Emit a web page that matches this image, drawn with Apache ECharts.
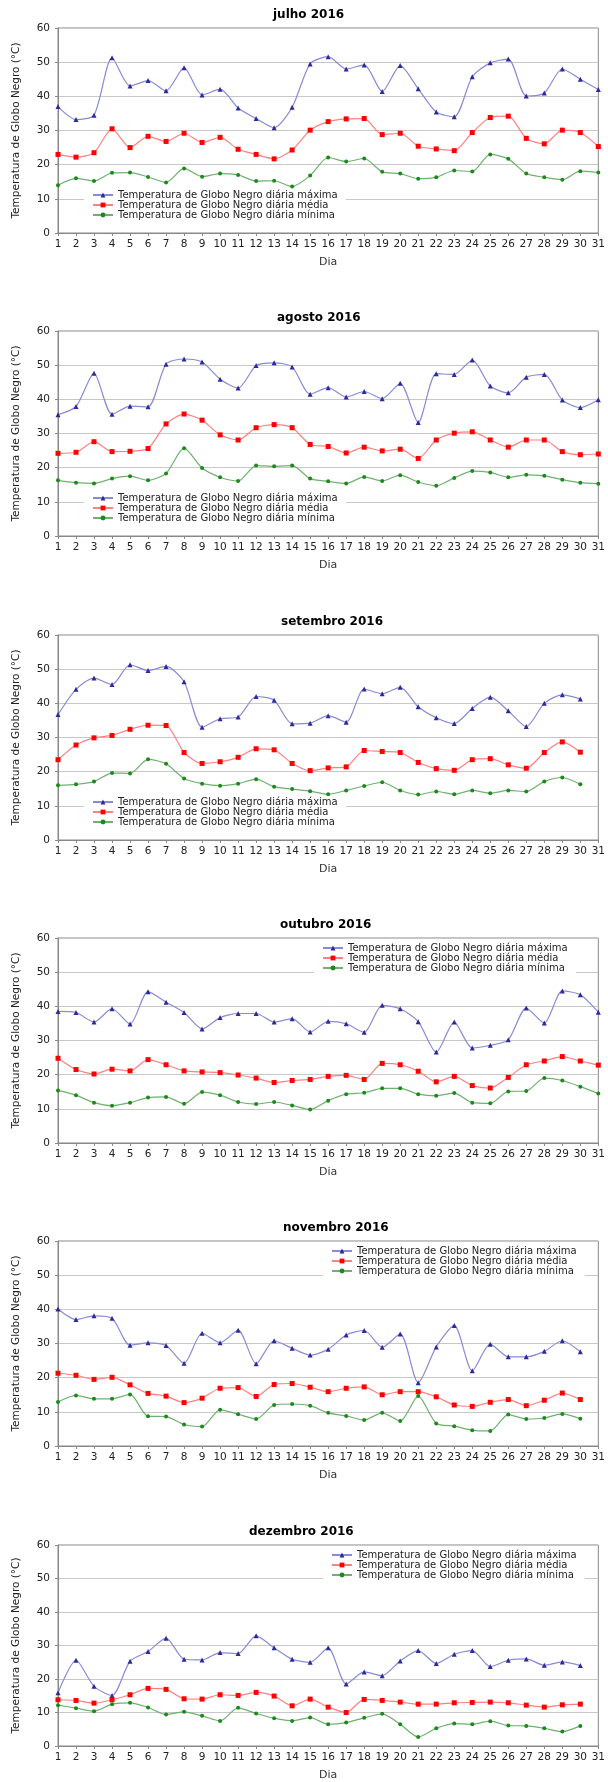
<!DOCTYPE html>
<html>
<head>
<meta charset="utf-8">
<script src="https://cdn.jsdelivr.net/npm/echarts@6/dist/echarts.min.js"></script>
<style>html,body{margin:0;padding:0;background:#fff}#c{width:608px;height:1782px}#e{position:absolute;top:0;left:0;font-size:10px;color:#c00}</style>
</head>
<body>
<div id="c"></div><div id="e"></div>
<script>
var days = [];
for (var d = 1; d <= 31; d++) days.push(String(d));

var months = ['julho 2016', 'agosto 2016', 'setembro 2016', 'outubro 2016', 'novembro 2016', 'dezembro 2016'];
var seriesNames = ['Temperatura de Globo Negro diária máxima', 'Temperatura de Globo Negro diária média', 'Temperatura de Globo Negro diária mínima'];

var julMax = [37, 33.2, 34.5, 51.3, 43, 44.6, 41.6, 48.4, 40.4, 42.1, 36.6, 33.5, 30.8, 36.8, 49.5, 51.6, 48, 49.2, 41.4, 49, 42.2, 35.4, 34, 45.7, 49.8, 50.9, 40.1, 41, 48, 45, 42];
var julMed = [23, 22.2, 23.5, 30.5, 25, 28.3, 26.8, 29.2, 26.5, 28, 24.5, 23, 21.7, 24.3, 30.1, 32.6, 33.4, 33.5, 28.8, 29.2, 25.4, 24.6, 24.1, 29.4, 33.8, 34.2, 27.7, 26.1, 30.1, 29.4, 25.3];
var julMin = [14, 16, 15.2, 17.6, 17.7, 16.4, 14.8, 18.9, 16.5, 17.4, 17, 15.2, 15.3, 13.6, 16.8, 22.1, 20.9, 21.8, 17.9, 17.4, 15.9, 16.3, 18.3, 18, 23, 21.7, 17.4, 16.3, 15.6, 18.1, 17.7];

var agoMax = [35.5, 37.9, 47.6, 35.6, 38, 37.8, 50.3, 51.8, 50.9, 45.9, 43.3, 49.9, 50.7, 49.5, 41.5, 43.4, 40.7, 42.3, 40.2, 44.7, 33.2, 47.5, 47.3, 51.5, 43.9, 41.9, 46.5, 47.3, 39.8, 37.6, 39.9];
var agoMed = [24.2, 24.5, 27.6, 24.7, 24.8, 25.6, 32.8, 35.7, 33.9, 29.6, 28.1, 31.7, 32.6, 31.7, 26.8, 26.2, 24.3, 26, 24.9, 25.4, 22.7, 28.1, 30.1, 30.5, 28.1, 26, 28.1, 28.1, 24.7, 23.8, 24];
var agoMin = [16.3, 15.6, 15.4, 16.8, 17.5, 16.3, 18.3, 25.7, 19.9, 17.2, 16.1, 20.6, 20.4, 20.6, 16.8, 16, 15.4, 17.3, 16.1, 17.8, 15.8, 14.7, 17, 19, 18.6, 17.2, 17.9, 17.6, 16.5, 15.6, 15.3];

var setMax = [36.7, 44.1, 47.4, 45.5, 51.3, 49.6, 50.8, 46.3, 33, 35.5, 36, 42, 40.9, 34, 34.2, 36.4, 34.5, 44.2, 42.8, 44.7, 39, 35.8, 34.1, 38.5, 41.8, 37.8, 33.2, 40, 42.5, 41.3];
var setMed = [23.5, 27.8, 29.9, 30.6, 32.4, 33.6, 33.5, 25.6, 22.4, 22.9, 24.2, 26.7, 26.4, 22.4, 20.3, 21.1, 21.4, 26.2, 25.9, 25.6, 22.7, 20.9, 20.4, 23.5, 23.8, 22, 21, 25.6, 28.7, 25.7];
var setMin = [16, 16.3, 17.1, 19.6, 19.5, 23.6, 22.3, 18, 16.5, 15.9, 16.5, 17.8, 15.6, 14.9, 14.3, 13.4, 14.5, 15.8, 16.9, 14.5, 13.3, 14.2, 13.4, 14.5, 13.7, 14.5, 14.2, 17.1, 18.3, 16.3];

var outMax = [38.5, 38.2, 35.4, 39.3, 34.8, 44.3, 41.2, 38.2, 33.4, 36.7, 37.9, 37.9, 35.4, 36.4, 32.5, 35.6, 34.9, 32.4, 40.3, 39.3, 35.5, 26.6, 35.4, 27.8, 28.6, 30.2, 39.5, 35.1, 44.5, 43.4, 38.3];
var outMed = [24.8, 21.5, 20.2, 21.6, 21.1, 24.4, 22.9, 21.1, 20.8, 20.6, 19.9, 19, 17.7, 18.3, 18.6, 19.5, 19.8, 18.6, 23.3, 22.9, 21, 17.9, 19.5, 16.8, 16.1, 19.2, 22.9, 24, 25.3, 24, 22.8];
var outMin = [15.4, 14, 11.8, 10.9, 11.8, 13.3, 13.5, 11.5, 14.9, 14, 12, 11.4, 12, 11, 9.8, 12.4, 14.3, 14.7, 16, 16, 14.3, 13.8, 14.6, 11.8, 11.6, 15.1, 15.2, 19, 18.3, 16.5, 14.5];

var novMax = [40.1, 37, 38.1, 37.4, 29.5, 30.2, 29.4, 24.2, 33, 30.2, 33.9, 24.1, 30.8, 28.6, 26.6, 28.3, 32.5, 33.8, 28.9, 32.8, 18.5, 29, 35.3, 22, 29.8, 26.1, 26.1, 27.7, 30.8, 27.6];
var novMed = [21.3, 20.7, 19.5, 20.1, 17.9, 15.4, 14.6, 12.7, 14, 16.9, 17.1, 14.5, 18, 18.3, 17.2, 15.9, 16.9, 17.3, 15, 15.9, 15.9, 14.4, 12, 11.6, 12.8, 13.6, 11.8, 13.4, 15.5, 13.6];
var novMin = [12.9, 14.8, 13.8, 13.8, 15.1, 8.7, 8.6, 6.3, 5.7, 10.6, 9.3, 7.9, 12, 12.3, 11.8, 9.7, 8.8, 7.6, 9.7, 7.3, 14.6, 6.6, 5.8, 4.6, 4.4, 9.2, 7.9, 8.2, 9.4, 8];

var dezMax = [15.9, 25.6, 17.8, 15.1, 25.3, 28.2, 32.2, 25.9, 25.7, 27.9, 27.6, 32.9, 29.3, 25.9, 25, 29.3, 18.5, 22.1, 21, 25.4, 28.5, 24.6, 27.4, 28.5, 23.7, 25.6, 26, 24.1, 25.1, 24];
var dezMed = [13.8, 13.6, 12.8, 13.8, 15.3, 17.2, 16.9, 14.1, 14, 15.3, 15.1, 16, 14.9, 12, 14, 11.6, 10, 13.9, 13.6, 13.1, 12.5, 12.5, 12.9, 13, 13.1, 12.9, 12.2, 11.6, 12.3, 12.5];
var dezMin = [12.2, 11.3, 10.4, 12.5, 12.9, 11.5, 9.4, 10.2, 9, 7.5, 11.4, 9.7, 8.3, 7.5, 8.5, 6.5, 7, 8.4, 9.6, 6.5, 2.7, 5.3, 6.7, 6.5, 7.4, 6.1, 6, 5.3, 4.3, 6];

var monthData = [
	[julMax, julMed, julMin],
	[agoMax, agoMed, agoMin],
	[setMax, setMed, setMin],
	[outMax, outMed, outMin],
	[novMax, novMed, novMin],
	[dezMax, dezMed, dezMin]
];

// panel layout: plot top (px), title left, legend offset inside plot
var plotTops = [28, 331, 635, 938, 1241, 1545];
var titleLeft = [268, 272, 276, 275, 278, 244];
var legendPos = [
	{ left: 84, top: 161 }, { left: 84, top: 161 }, { left: 84, top: 161 },
	{ left: 314, top: 4 }, { left: 323, top: 4 }, { left: 323, top: 4 }
];
var plotH = 205;

var lineColors = ['#8a8ad6', '#ff8080', '#70b070'];
var markColors = ['#2a2a9a', '#ff0000', '#1a8a1a'];
var symbols = ['triangle', 'rect', 'circle'];
var symSizes = [5, 5, 4];

var font = 'DejaVu Sans';

function build(withLegend) {
	var grids = [], xAxes = [], yAxes = [], series = [], titles = [], legends = [];
	for (var m = 0; m < 6; m++) {
		var top = plotTops[m];
		grids.push({ left: 58, width: 544, top: top, height: plotH, show: true, borderColor: '#888', borderWidth: 1 });
		titles.push({
			text: months[m], left: titleLeft[m], top: top - 24,
			textStyle: { fontFamily: font, fontSize: 12, fontWeight: 'bold', color: '#000' }
		});
		xAxes.push({
			type: 'category', gridIndex: m, data: days, boundaryGap: false,
			name: 'Dia', nameLocation: 'middle', nameGap: 24,
			nameTextStyle: { fontFamily: font, fontSize: 11, color: '#333' },
			axisLine: { lineStyle: { color: '#888' } },
			axisTick: { show: true, length: 3, lineStyle: { color: '#888' } },
			axisLabel: { interval: 0, fontFamily: font, fontSize: 10.5, color: '#222', margin: 6 },
			splitLine: { show: false }
		});
		yAxes.push({
			type: 'value', gridIndex: m, min: 0, max: 60, interval: 10,
			name: 'Temperatura de Globo Negro (°C)', nameLocation: 'middle', nameGap: 36,
			nameTextStyle: { fontFamily: font, fontSize: 10.5, color: '#222' },
			axisLine: { show: true, lineStyle: { color: '#888' } },
			axisTick: { show: true, length: 3, lineStyle: { color: '#888' } },
			axisLabel: { fontFamily: font, fontSize: 10.5, color: '#222', margin: 8 },
			splitLine: { lineStyle: { color: '#c8c8c8', width: 1 } }
		});
		var names = [];
		for (var s = 0; s < 3; s++) {
			var nm = seriesNames[s] + '|' + m;
			names.push(nm);
			series.push({
				name: nm, type: 'line', xAxisIndex: m, yAxisIndex: m,
				data: monthData[m][s], smooth: 0.25,
				symbol: symbols[s], symbolSize: symSizes[s],
				lineStyle: { color: lineColors[s], width: 1.2 },
				itemStyle: { color: markColors[s] }
			});
		}
		legends.push({
			orient: 'vertical', left: legendPos[m].left, top: top + legendPos[m].top,
			data: names, itemWidth: 20, itemHeight: 6, itemGap: 0,
			backgroundColor: '#fff', padding: [1, 8],
			formatter: function (n) { return n.split('|')[0]; },
			textStyle: { fontFamily: font, fontSize: 10, color: '#222' }
		});
	}
	var opt = { backgroundColor: '#fff', animation: false, title: titles, grid: grids, xAxis: xAxes, yAxis: yAxes, series: series };
	if (withLegend) opt.legend = legends;
	return opt;
}

var el = document.getElementById('c');
var chart = echarts.init(el);
try {
	chart.setOption(build(true));
} catch (err) {
	echarts.dispose(el);
	chart = echarts.init(el);
	chart.setOption(build(false));
	document.getElementById('e').textContent = 'ERR: ' + err.message;
}
</script>
</body>
</html>
